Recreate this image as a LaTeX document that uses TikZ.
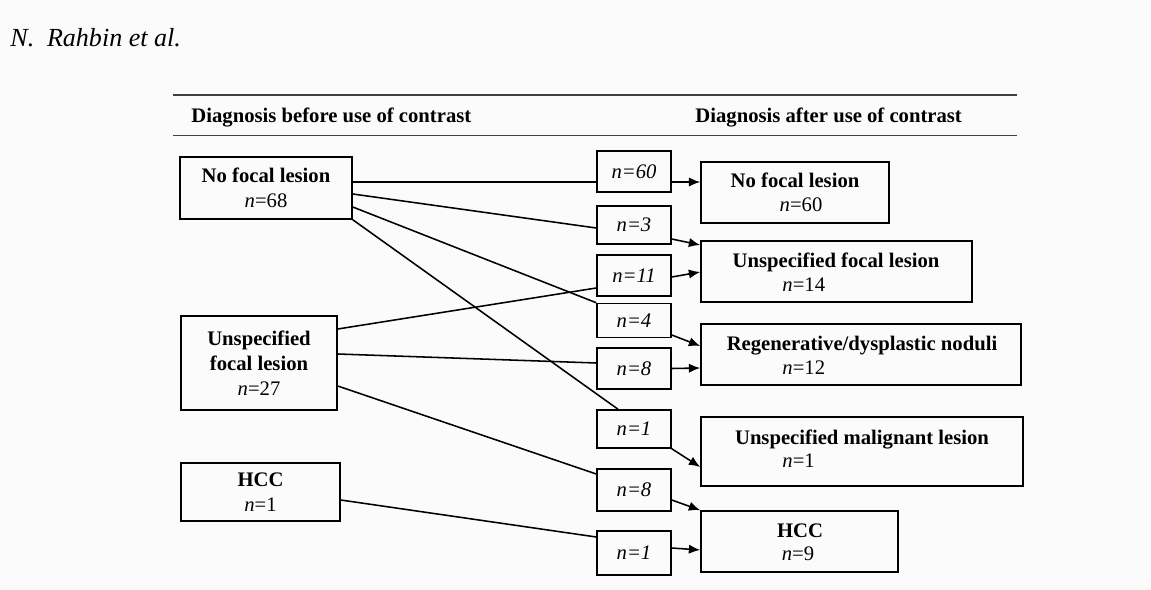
\documentclass[tikz,border=0pt]{standalone}
\usepackage{fontspec}
\setmainfont{Liberation Serif}
\usepackage{tikz}
\usetikzlibrary{calc}
\usetikzlibrary{arrows.meta}
\definecolor{pagebg}{RGB}{251,251,251}
\newcommand{\pxu}{0.017cm}
\tikzset{diagbox/.style={draw, line width=0.75pt, inner sep=0pt, align=center, font=\fontsize{10}{12}\selectfont}}
\tikzset{countbox/.style={draw, line width=0.75pt, inner sep=0pt, minimum width=74*\pxu, font=\fontsize{10}{12}\selectfont\itshape}}
\tikzset{boxtext/.style={inner sep=0pt, anchor=base, font=\fontsize{10}{12}\selectfont}}
\tikzset{flow/.style={line width=0.75pt}}
\tikzset{flowarrow/.style={line width=0.75pt, -{Latex[length=5.5pt,width=4.5pt]}}}

\begin{document}
\begin{tikzpicture}[x=0.017cm,y=-0.017cm]
  \fill[pagebg] (0,0) rectangle (1151,590);
  \useasboundingbox (0,0) rectangle (1151,590);

  \node[inner sep=0pt, anchor=base west, font=\fontsize{12.6}{15}\selectfont\itshape] (author) at (10,47) {N.\hspace{3pt} Rahbin et al.};

  % table header
  \draw[line width=0.75pt, black!75] (173,95) -- (1017,95);
  \draw[line width=0.75pt, black!75] (173,135.5) -- (1017,135.5);
  \node[boxtext, anchor=base west] (hdrL) at (191,123) {\textbf{Diagnosis before use of contrast}};
  \node[boxtext, anchor=base west] (hdrR) at (695,123) {\textbf{Diagnosis after use of contrast}};

  % before contrast
  \node[diagbox, minimum width=172*\pxu, minimum height=62*\pxu] (nflL) at (266,188) {\textbf{No focal lesion}\\\textit{n}=68};
  \node[diagbox, minimum width=156*\pxu, minimum height=94*\pxu] (uflL) at (259,363) {\textbf{Unspecified}\\\textbf{focal lesion}\\\textit{n}=27};
  \node[diagbox, minimum width=159*\pxu, minimum height=58*\pxu] (hccL) at (260.5,492) {\textbf{HCC}\\\textit{n}=1};

  % counts
  \foreach \name/\y/\h/\lab in {
    c60/171.5/41/60,
    c3/225/38/3,
    c11/275.5/41/11,
    c4/320.5/34/4,
    c8a/368.5/41/8,
    c1a/429/38/1,
    c8b/490/42/8,
    c1b/553/44/1%
  } {
    \node[countbox, minimum height=\h*\pxu] (\name) at (634,\y) {n=\lab};
  }

  % after contrast
  \node[diagbox, minimum width=188*\pxu, minimum height=61*\pxu] (nflR) at (795,192.5) {};
  \node[diagbox, minimum width=271*\pxu, minimum height=61*\pxu] (uflR) at (836.5,271.5) {};
  \node[diagbox, minimum width=320*\pxu, minimum height=61*\pxu] (regR) at (861,354.5) {};
  \node[diagbox, minimum width=322*\pxu, minimum height=69*\pxu] (malR) at (862,451.5) {};
  \node[diagbox, minimum width=197*\pxu, minimum height=61*\pxu] (hccR) at (799.5,541.5) {};

  \node[boxtext] (nflRt) at (795,188) {\textbf{No focal lesion}};
  \node[boxtext] (nflRc) at (801,212) {\textit{n}=60};
  \node[boxtext] (uflRt) at (836,268) {\textbf{Unspecified focal lesion}};
  \node[boxtext, anchor=base west] (uflRc) at (782,292) {\textit{n}=14};
  \node[boxtext] (regRt) at (862,351) {\textbf{Regenerative/dysplastic noduli}};
  \node[boxtext, anchor=base west] (regRc) at (782,374) {\textit{n}=12};
  \node[boxtext] (malRt) at (862,444) {\textbf{Unspecified malignant lesion}};
  \node[boxtext, anchor=base west] (malRc) at (782,467) {\textit{n}=1};
  \node[boxtext] (hccRt) at (800,537) {\textbf{HCC}};
  \node[boxtext] (hccRc) at (798,560) {\textit{n}=9};

  % before -> counts
  \foreach \a/\ax/\ay/\b/\bx/\by in {
    nflL.east/0/-6/c60.west/0/10.5,
    nflL.east/0/6/c3.west/0/3,
    nflL.east/0/19/c4.north west/0/0,
    nflL.south east/0/0/c1a.north/-16/0,
    uflL.east/0/-34/c11.west/0/12.5,
    uflL.east/0/-9/c8a.west/0/-5.5,
    uflL.east/0/23/c8b.west/0/-16,
    hccL.east/0/8/c1b.west/0/-16%
  }{
    \draw[flow] ([shift={(\ax,\ay)}]\a) -- ([shift={(\bx,\by)}]\b);
  }

  % counts -> after
  \foreach \a/\ax/\ay/\b/\bx/\by in {
    c60.east/0/10.5/nflR.west/0/-10.5,
    c3.east/0/14/uflR.west/0/-26.5,
    c11.east/0/1.5/uflR.west/0/0.5,
    c4.east/0/14.5/regR.west/0/-8.5,
    c8a.east/0/0/regR.west/0/13.5,
    c1a.south east/0/0/malR.west/0/15.5,
    c8b.east/0/10/hccR.north west/0/0,
    c1b.east/0/-5/hccR.west/0/8.5%
  }{
    \draw[flowarrow] ([shift={(\ax,\ay)}]\a) -- ([shift={(\bx,\by)}]\b);
  }
\end{tikzpicture}
\end{document}
